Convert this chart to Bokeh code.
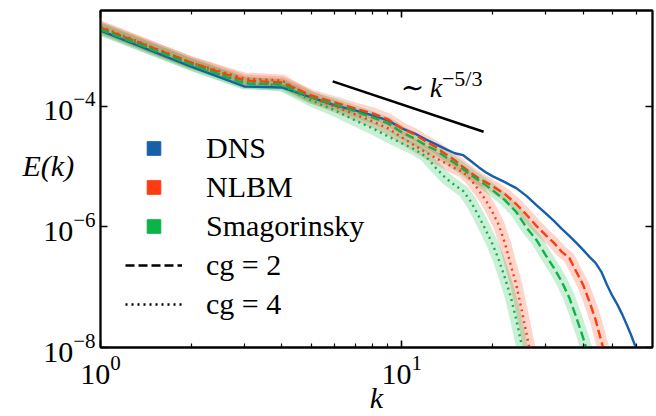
from bokeh.plotting import figure
from bokeh.models import (Range1d, FixedTicker, LogAxis, Label, Legend, LegendItem,
                          CustomJSTickFormatter)
from bokeh.embed import file_html
from bokeh.resources import INLINE

# ---------------- data ----------------
k_dns = [1, 2, 3, 4, 5, 6, 7, 8, 9, 10, 11, 12, 13, 14, 15, 16, 17, 18, 19, 20,
         22, 24, 26, 28, 30, 32, 34, 36, 38, 40, 42, 44, 46, 48, 50, 52, 54, 56, 58, 60, 62]
E_dns = [1.804e-3, 4.585e-4, 2.141e-4, 2.061e-4, 1.409e-4, 1.039e-4, 8.59e-5, 7.10e-5, 5.87e-5, 4.33e-5,
         3.58e-5, 2.85e-5, 2.35e-5, 1.95e-5, 1.67e-5, 1.55e-5, 1.23e-5, 9.81e-6, 8.11e-6, 6.97e-6,
         5.54e-6, 4.41e-6, 3.25e-6, 2.31e-6, 1.70e-6, 1.26e-6, 9.27e-7, 7.10e-7, 5.44e-7, 4.17e-7,
         3.19e-7, 2.54e-7, 1.80e-7, 1.10e-7, 7.23e-8, 5.14e-8, 3.51e-8, 2.31e-8, 1.52e-8, 9.63e-9, 6.3e-9]

k_nlbm2 = [1, 2, 3, 4, 5, 6, 7, 8, 9, 10, 11, 12, 13, 14, 15, 16, 17, 18, 19, 20,
           22, 24, 26, 28, 30, 32, 34, 36, 38, 40, 42, 44, 46, 48]
E_nlbm2 = [2.021e-3, 5.34e-4, 2.69e-4, 2.49e-4, 1.52e-4, 1.165e-4, 9.27e-5, 7.66e-5, 6.10e-5, 4.33e-5,
           3.45e-5, 2.64e-5, 2.10e-5, 1.61e-5, 1.28e-5, 9.81e-6, 7.81e-6, 6.45e-6, 5.54e-6, 4.76e-6,
           3.51e-6, 2.40e-6, 1.58e-6, 1.04e-6, 7.38e-7, 5.44e-7, 3.86e-7, 3.07e-7, 1.80e-7, 1.10e-7,
           5.76e-8, 2.90e-8, 1.26e-8, 5.87e-9]

k_smag2 = [1, 2, 3, 4, 5, 6, 7, 8, 9, 10, 11, 12, 13, 14, 15, 16, 17, 18, 19, 20,
           22, 24, 26, 28, 30, 32, 34, 36, 38, 40, 42]
E_smag2 = [1.874e-3, 4.95e-4, 2.40e-4, 2.31e-4, 1.409e-4, 1.079e-4, 8.27e-5, 6.58e-5, 5.24e-5, 3.72e-5,
           2.96e-5, 2.27e-5, 1.87e-5, 1.44e-5, 1.14e-5, 9.09e-6, 7.24e-6, 5.98e-6, 4.94e-6, 4.09e-6,
           2.79e-6, 1.77e-6, 9.63e-7, 6.10e-7, 3.45e-7, 2.10e-7, 1.23e-7, 6.71e-8, 3.13e-8, 1.46e-8, 6.33e-9]

k_nlbm4 = [1, 2, 3, 4, 5, 6, 7, 8, 9, 10, 11, 12, 13, 14, 15, 16, 17, 18, 19, 20,
           21, 22, 23, 24, 25, 26, 27]
E_nlbm4 = [2.10e-3, 5.34e-4, 2.90e-4, 2.69e-4, 1.409e-4, 1.0e-4, 7.38e-5, 5.65e-5, 4.33e-5, 3.07e-5,
           2.27e-5, 1.74e-5, 1.38e-5, 1.14e-5, 9.45e-6, 8.11e-6, 5.98e-6, 4.09e-6, 2.79e-6, 1.77e-6,
           1.079e-6, 5.44e-7, 2.35e-7, 1.10e-7, 4.25e-8, 1.64e-8, 6.33e-9]

k_smag4 = [1, 2, 3, 4, 5, 6, 7, 8, 9, 10, 11, 12, 13, 14, 15, 16, 17, 18, 19, 20,
           21, 22, 23, 24, 25, 26]
E_smag4 = [1.947e-3, 4.95e-4, 2.49e-4, 2.22e-4, 1.257e-4, 8.59e-5, 5.87e-5, 4.33e-5, 3.19e-5, 2.45e-5,
           1.95e-5, 1.49e-5, 9.45e-6, 6.45e-6, 4.94e-6, 3.94e-6, 2.59e-6, 1.52e-6, 8.92e-7, 5.24e-7,
           2.85e-7, 1.44e-7, 6.97e-8, 2.90e-8, 1.12e-8, 4.33e-9]

# reference slope line  ~ k^(-5/3)
k_ref = [5.9, 18.7]
E_ref = [2.6e-4, 3.8e-5]

x_major = [1, 10]
x_minor = [2, 3, 4, 5, 6, 7, 8, 9, 20, 30, 40, 50, 60]
y_major = [1e-8, 1e-6, 1e-4]

legend_models = ["DNS", "NLBM", "Smagorinsky"]
legend_cg = ["cg = 2", "cg = 4"]

# ---------------- style ----------------
C_DNS = "#1760a8"
C_NLBM = "#ff3b10"
C_SMAG = "#0bb446"
FONT = "Liberation Serif"
DASH = "9 4"
DOT = "2 4"
LW = 2.4

p = figure(width=656, height=416, x_axis_type="log", y_axis_type="log",
           x_range=Range1d(1, 68), y_range=Range1d(1e-8, 3.9e-3),
           output_backend="svg", toolbar_location=None,
           min_border_left=100, min_border_right=4, min_border_top=10, min_border_bottom=68)
p.grid.visible = False
p.outline_line_color = "black"
p.outline_line_width = 1.8
p.background_fill_color = "white"
p.border_fill_color = "white"


def style_axis(ax):
    ax.axis_line_width = 1.8
    ax.axis_line_color = "black"
    ax.major_tick_in = 7
    ax.major_tick_out = 0
    ax.minor_tick_in = 4
    ax.minor_tick_out = 0
    ax.major_tick_line_width = 1.6
    ax.minor_tick_line_width = 1.2
    ax.major_tick_line_color = "black"
    ax.minor_tick_line_color = "black"
    ax.major_label_text_font = FONT
    ax.major_label_text_font_size = "30px"
    ax.major_label_text_color = "black"
    ax.axis_label_text_font = FONT
    ax.axis_label_text_font_style = "italic"
    ax.axis_label_text_font_size = "30px"
    ax.axis_label_text_color = "black"


xax = p.xaxis[0]
yax = p.yaxis[0]
xax.ticker = FixedTicker(ticks=x_major, minor_ticks=x_minor)
yax.ticker = FixedTicker(ticks=y_major, minor_ticks=[])
style_axis(xax)
style_axis(yax)
xax.major_label_standoff = 8
yax.major_label_standoff = 5
xax.axis_label = "k"
xax.axis_label_standoff = -6
yax.axis_label = "E(k)\n"
yax.axis_label_orientation = "horizontal"
yax.axis_label_standoff = -34
yax.axis_label_text_baseline = "alphabetic"
yax.axis_label_text_line_height = 0.8

blank = CustomJSTickFormatter(code="return ''")
top = LogAxis(ticker=FixedTicker(ticks=x_major, minor_ticks=x_minor), formatter=blank)
right = LogAxis(ticker=FixedTicker(ticks=y_major, minor_ticks=[]), formatter=blank)
for ax in (top, right):
    style_axis(ax)
    ax.major_label_standoff = 0
    ax.major_label_text_font_size = "0px"
p.add_layout(top, "above")
p.add_layout(right, "right")

# bands
for kk, ee, c in [(k_nlbm2, E_nlbm2, C_NLBM), (k_smag2, E_smag2, C_SMAG),
                  (k_nlbm4, E_nlbm4, C_NLBM), (k_smag4, E_smag4, C_SMAG)]:
    p.line(kk, ee, line_color=c, line_width=12, line_alpha=0.22,
           line_join="round", line_cap="round")

# lines
p.line(k_dns, E_dns, line_color=C_DNS, line_width=LW)
p.line(k_nlbm2, E_nlbm2, line_color=C_NLBM, line_width=LW, line_dash=DASH)
p.line(k_smag2, E_smag2, line_color=C_SMAG, line_width=LW, line_dash=DASH)
p.line(k_nlbm4, E_nlbm4, line_color=C_NLBM, line_width=LW, line_dash=DOT)
p.line(k_smag4, E_smag4, line_color=C_SMAG, line_width=LW, line_dash=DOT)

# slope line and its label
p.line(k_ref, E_ref, line_color="black", line_width=2.6)
p.add_layout(Label(x=9.92, y=2.06e-4, text="\u223c", text_font="DejaVu Serif",
                   text_font_size="28px", text_color="black", text_baseline="alphabetic"))
p.add_layout(Label(x=12.4, y=2.06e-4, text="k", text_font=FONT, text_font_style="italic",
                   text_font_size="28px", text_color="black", text_baseline="alphabetic"))
p.add_layout(Label(x=13.6, y=2.95e-4, text="\u22125/3", text_font=FONT, text_font_size="22px",
                   text_color="black", text_baseline="alphabetic"))

# legend proxies (one point each, drawn invisibly: size 0 / single-point line)
r_d = p.scatter(k_dns[:1], E_dns[:1], marker="square", color=C_DNS, size=0)
r_n = p.scatter(k_nlbm2[:1], E_nlbm2[:1], marker="square", color=C_NLBM, size=0)
r_s = p.scatter(k_smag2[:1], E_smag2[:1], marker="square", color=C_SMAG, size=0)
r_2 = p.line(k_dns[:1], E_dns[:1], line_color="black", line_width=LW, line_dash=DASH)
r_4 = p.line(k_dns[:1], E_dns[:1], line_color="black", line_width=LW, line_dash=DOT)
items = [LegendItem(label=legend_models[0], renderers=[r_d]),
         LegendItem(label=legend_models[1], renderers=[r_n]),
         LegendItem(label=legend_models[2], renderers=[r_s]),
         LegendItem(label=legend_cg[0], renderers=[r_2]),
         LegendItem(label=legend_cg[1], renderers=[r_4])]
legend = Legend(items=items, location=(25, 26), border_line_color=None,
                background_fill_alpha=0, padding=0, margin=0, spacing=5,
                glyph_width=57, glyph_height=34, label_height=34, label_standoff=24,
                label_text_font=FONT, label_text_font_size="30px", label_text_color="black",
                label_text_baseline="middle")
p.add_layout(legend)

open("out.html", "w").write(file_html(p, INLINE))
